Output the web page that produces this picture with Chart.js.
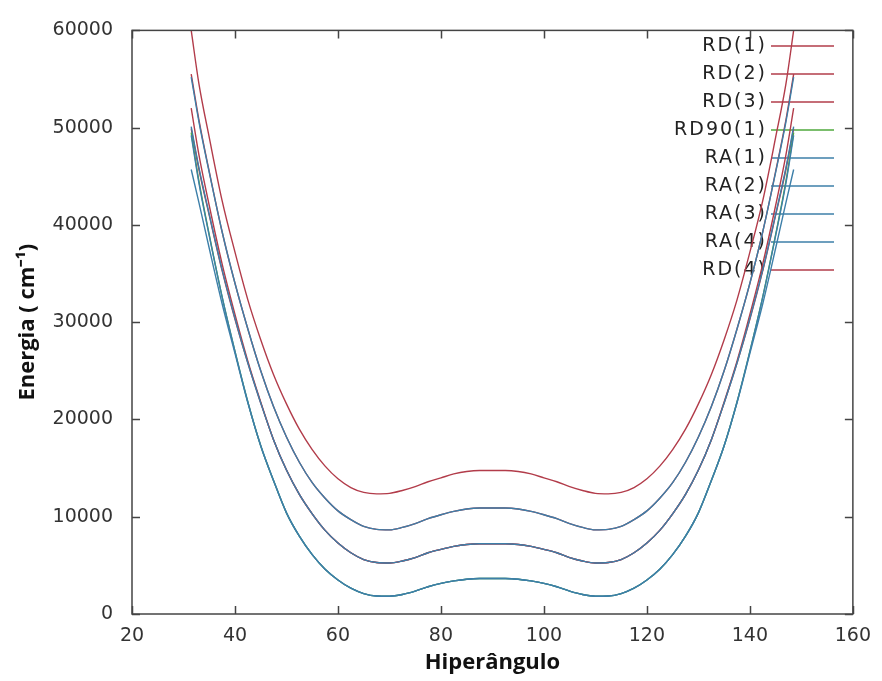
<!DOCTYPE html>
<html>
<head>
<meta charset="utf-8">
<script src="https://cdn.jsdelivr.net/npm/chart.js"></script>
<style>
  html, body { margin: 0; padding: 0; background: #fff; }
  #wrap { width: 882px; height: 681px; }
</style>
</head>
<body>
<div id="wrap"><canvas id="chart" width="882" height="681"></canvas></div>
<script>
// hyperangle grid (degrees)
const angles = [31.5, 33, 35, 37.5, 40, 42.5, 45, 47.5, 50, 52.5, 55, 57.5, 60, 62.5, 65, 67.5, 70, 72.5, 75, 77.5, 80, 82.5, 85, 87.5, 90,
  92.5, 95, 97.5, 100, 102.5, 105, 107.5, 110, 112.5, 115, 117.5, 120, 122.5, 125, 127.5, 130, 132.5, 135, 137.5, 140, 142.5, 145, 147, 148.5];

// energies (cm-1)
const rd1 = [60000, 54500, 49000, 42500, 37200, 32300, 28200, 24600, 21600, 19000, 16900, 15200, 13900, 13000, 12500, 12350, 12400, 12700, 13100, 13600, 14000, 14400, 14650, 14750, 14750,
  14750, 14650, 14400, 14000, 13600, 13100, 12700, 12400, 12350, 12500, 13000, 13900, 15200, 16900, 19000, 21600, 24600, 28200, 32300, 37200, 42500, 49000, 54500, 60000];
const rd2 = [55500, 50800, 45500, 39300, 34000, 29300, 25000, 21300, 18200, 15600, 13500, 11900, 10600, 9700, 9000, 8700, 8650, 8900, 9300, 9800, 10200, 10550, 10800, 10900, 10900,
  10900, 10800, 10550, 10200, 9800, 9300, 8900, 8650, 8700, 9000, 9700, 10600, 11900, 13500, 15600, 18200, 21300, 25000, 29300, 34000, 39300, 45500, 50800, 55500];
const rd3 = [52000, 47200, 42000, 36000, 30800, 26000, 21800, 17900, 14800, 12300, 10300, 8600, 7300, 6300, 5600, 5300, 5250, 5450, 5800, 6300, 6650, 6950, 7150, 7230, 7230,
  7230, 7150, 6950, 6650, 6300, 5800, 5450, 5250, 5300, 5600, 6300, 7300, 8600, 10300, 12300, 14800, 17900, 21800, 26000, 30800, 36000, 42000, 47200, 52000];
const rd90_1 = [49500, 44500, 39000, 32600, 27000, 21800, 17300, 13700, 10400, 8000, 6100, 4600, 3500, 2650, 2100, 1850, 1830, 2000, 2350, 2800, 3150, 3400, 3580, 3650, 3650,
  3650, 3580, 3400, 3150, 2800, 2350, 2000, 1830, 1850, 2100, 2650, 3500, 4600, 6100, 8000, 10400, 13700, 17300, 21800, 27000, 32600, 39000, 44500, 49500];
const ra1 = [55200, 50600, 45400, 39300, 34000, 29300, 25000, 21300, 18200, 15600, 13500, 11900, 10600, 9700, 9000, 8700, 8650, 8900, 9300, 9800, 10200, 10550, 10800, 10900, 10900,
  10900, 10800, 10550, 10200, 9800, 9300, 8900, 8650, 8700, 9000, 9700, 10600, 11900, 13500, 15600, 18200, 21300, 25000, 29300, 34000, 39300, 45400, 50600, 55200];
const ra2 = [50100, 45900, 41100, 35400, 30400, 25800, 21700, 17900, 14800, 12300, 10300, 8600, 7300, 6300, 5600, 5300, 5250, 5450, 5800, 6300, 6650, 6950, 7150, 7230, 7230,
  7230, 7150, 6950, 6650, 6300, 5800, 5450, 5250, 5300, 5600, 6300, 7300, 8600, 10300, 12300, 14800, 17900, 21700, 25800, 30400, 35400, 41100, 45900, 50100];
const ra3 = [49200, 44300, 38900, 32600, 27000, 21800, 17300, 13700, 10400, 8000, 6100, 4600, 3500, 2650, 2100, 1850, 1830, 2000, 2350, 2800, 3150, 3400, 3580, 3650, 3650,
  3650, 3580, 3400, 3150, 2800, 2350, 2000, 1830, 1850, 2100, 2650, 3500, 4600, 6100, 8000, 10400, 13700, 17300, 21800, 27000, 32600, 38900, 44300, 49200];
const ra4 = [45700, 42300, 37600, 31900, 26800, 21700, 17300, 13700, 10400, 8000, 6100, 4600, 3500, 2650, 2100, 1850, 1830, 2000, 2350, 2800, 3150, 3400, 3580, 3650, 3650,
  3650, 3580, 3400, 3150, 2800, 2350, 2000, 1830, 1850, 2100, 2650, 3500, 4600, 6100, 8000, 10400, 13700, 17300, 21700, 26800, 31900, 37600, 42300, 45700];
const rd4 = [49900, 45700, 41000, 35300, 30300, 25800, 21700, 17900, 14800, 12300, 10300, 8600, 7300, 6300, 5600, 5300, 5250, 5450, 5800, 6300, 6650, 6950, 7150, 7230, 7230,
  7230, 7150, 6950, 6650, 6300, 5800, 5450, 5250, 5300, 5600, 6300, 7300, 8600, 10300, 12300, 14800, 17900, 21700, 25800, 30300, 35300, 41000, 45700, 49900];

const labels = ['RD(1)', 'RD(2)', 'RD(3)', 'RD90(1)', 'RA(1)', 'RA(2)', 'RA(3)', 'RA(4)', 'RD(4)'];
const values = [rd1, rd2, rd3, rd90_1, ra1, ra2, ra3, ra4, rd4];

const xTicks = [20, 40, 60, 80, 100, 120, 140, 160];
const yTicks = [0, 10000, 20000, 30000, 40000, 50000, 60000];

const RED = '#b23c4a', GREEN = '#4fa83d', BLUE = '#3d7fa9';
const colors = [RED, RED, RED, GREEN, BLUE, BLUE, BLUE, BLUE, RED];
// RA curves end up on top, like in the original plot
const drawOrder = [2, 2, 2, 1, 0, 0, 0, 0, 2];

const datasets = labels.map((name, i) => ({
  label: name,
  data: angles.map((a, j) => ({ x: a, y: values[i][j] })),
  borderColor: colors[i],
  borderWidth: 1.4,
  pointRadius: 0,
  fill: false,
  order: drawOrder[i],
  cubicInterpolationMode: 'monotone'
}));

// gnuplot-ish frame: box, inward ticks, key on the right
const frame = {
  id: 'frame',
  beforeDatasetsDraw(chart) {
    const { ctx } = chart;
    ctx.save();
    ctx.font = '19px "DejaVu Sans"';
    ctx.letterSpacing = '2px';
    ctx.textAlign = 'right';
    ctx.textBaseline = 'middle';
    chart.data.datasets.forEach((ds, i) => {
      const yy = 46 + i * 28;
      ctx.fillStyle = '#222';
      ctx.fillText(ds.label, 767, yy);
      ctx.strokeStyle = ds.borderColor;
      ctx.lineWidth = 1.4;
      ctx.beginPath();
      ctx.moveTo(771, yy);
      ctx.lineTo(834, yy);
      ctx.stroke();
    });
    ctx.restore();
  },
  afterDraw(chart) {
    const { ctx, chartArea: a, scales: { x, y } } = chart;
    ctx.save();
    ctx.strokeStyle = '#444';
    ctx.lineWidth = 1.5;
    ctx.strokeRect(a.left, a.top, a.right - a.left, a.bottom - a.top);
    ctx.beginPath();
    xTicks.forEach(v => {
      const px = Math.round(x.getPixelForValue(v)) + 0.5;
      ctx.moveTo(px, a.bottom); ctx.lineTo(px, a.bottom - 8);
      ctx.moveTo(px, a.top); ctx.lineTo(px, a.top + 8);
    });
    yTicks.forEach(v => {
      const py = Math.round(y.getPixelForValue(v)) + 0.5;
      ctx.moveTo(a.left, py); ctx.lineTo(a.left + 8, py);
      ctx.moveTo(a.right, py); ctx.lineTo(a.right - 8, py);
    });
    ctx.stroke();
    ctx.restore();
  }
};

new Chart(document.getElementById('chart'), {
  type: 'line',
  data: { datasets },
  options: {
    responsive: false,
    animation: false,
    layout: { padding: { left: 0, top: 27, right: 20, bottom: 0 } },
    plugins: { legend: { display: false }, tooltip: { enabled: false } },
    scales: {
      x: {
        type: 'linear', min: 20, max: 160,
        afterFit: s => { s.height = 67; },
        afterBuildTicks: s => { s.ticks = xTicks.map(v => ({ value: v })); },
        grid: { display: false, drawTicks: false },
        border: { display: false },
        ticks: { padding: 11, color: '#333', font: { family: 'DejaVu Sans', size: 19 }, maxRotation: 0 },
        title: { display: true, text: 'Hiperângulo', color: '#111', padding: { top: 0, bottom: 5 },
          font: { family: 'Open Sans', size: 22, weight: 'bold' } }
      },
      y: {
        min: 0, max: 60000,
        afterFit: s => { s.width = 132; },
        afterBuildTicks: s => { s.ticks = yTicks.map(v => ({ value: v })); },
        grid: { display: false, drawTicks: false },
        border: { display: false },
        ticks: { padding: 19, color: '#333', font: { family: 'DejaVu Sans', size: 19 }, callback: v => String(v) },
        title: { display: true, text: 'Energia ( cm⁻¹)', color: '#111', padding: { top: 15, bottom: 0 },
          font: { family: 'Open Sans', size: 22, weight: 'bold' } }
      }
    }
  },
  plugins: [frame]
});
</script>
</body>
</html>
